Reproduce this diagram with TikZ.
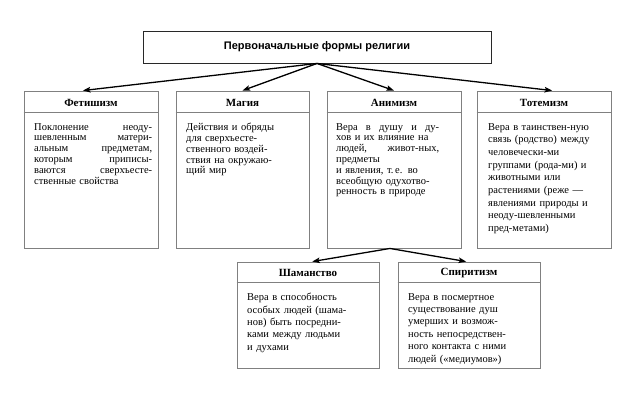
\documentclass[tikz,border=0pt]{standalone}
\usepackage{fontspec}
\setmainfont{Liberation Serif}
\newfontfamily\headfont{Liberation Sans}
\usetikzlibrary{arrows.meta,calc}
\definecolor{boxgray}{RGB}{128,128,128}
\definecolor{topgray}{RGB}{40,40,40}
\tikzset{
  box/.style={draw=boxgray, line width=0.9pt, rectangle, inner sep=0pt},
  topbox/.style={draw=topgray, line width=0.9pt, rectangle, inner sep=0pt},
  ttl/.style={inner sep=0pt, font=\fontsize{11}{12}\selectfont\bfseries},
  body/.style={inner sep=0pt, anchor=north west, align=left, font=\fontsize{10.5}{10.8}\selectfont},
  bodywide/.style={body, font=\fontsize{10.5}{12.7}\selectfont},
  bodylow/.style={body, font=\fontsize{10.5}{12.4}\selectfont},
  arr/.style={line width=1.3pt, -{Stealth[length=7.5pt,width=5.5pt,inset=1.5pt]}},
  sep/.style={draw=boxgray, line width=0.9pt}
}
\begin{document}
\begin{tikzpicture}[x=1pt,y=-1pt]
\useasboundingbox[fill=white] (0,0) rectangle (623,405);

% top box
\node[topbox, minimum width=348pt, minimum height=32pt] (top) at (317,47) {};
\node[inner sep=0pt, font=\fontsize{11}{12}\selectfont\headfont\bfseries] (toptxt) at (317,47) {Первоначальные формы религии};

% top row boxes
\node[box, minimum width=134pt, minimum height=157pt] (b1) at (91,169.5) {};
\node[box, minimum width=133pt, minimum height=157pt] (b2) at (242.5,169.5) {};
\node[box, minimum width=134pt, minimum height=157pt] (b3) at (394,169.5) {};
\node[box, minimum width=134pt, minimum height=157pt] (b4) at (544,169.5) {};

\draw[sep] (b1.north west) ++(0,22) -- ($(b1.north east)+(0,22)$);
\draw[sep] (b2.north west) ++(0,22) -- ($(b2.north east)+(0,22)$);
\draw[sep] (b3.north west) ++(0,22) -- ($(b3.north east)+(0,22)$);
\draw[sep] (b4.north west) ++(0,22) -- ($(b4.north east)+(0,22)$);

\node[ttl] (t1) at (91,103) {Фетишизм};
\node[ttl] (t2) at (242.5,103) {Магия};
\node[ttl] (t3) at (394,103) {Анимизм};
\node[ttl] (t4) at (544,103) {Тотемизм};

\node[body, text width=118pt] (x1) at (34,123) {Поклонение \hfill неоду-\\
шевленным \hfill матери-\\
альным \hfill предметам,\\
которым \hfill приписы-\\
ваются \hfill сверхъесте-\\
ственные свойства};

\node[body, text width=110pt] (x2) at (186,123) {Действия и обряды\\
для сверхъесте-\\
ственного воздей-\\
ствия на окружаю-\\
щий мир};

\node[body, text width=103pt] (x3) at (336,123) {Вера \hfill в \hfill душу \hfill и \hfill ду-\\
хов и их влияние на\\
людей, \hfill живот-ных,\\
предметы\\
и явления, т.\,е. во\\
всеобщую одухотво-\\
ренность в природе};

\node[bodywide, text width=118pt] (x4) at (488,123) {Вера в таинствен-ную\\
связь (родство) между\\
человечески-ми\\
группами (рода-ми) и\\
животными или\\
растениями (реже —\\
явлениями природы и\\
неоду-шевленными\\
пред-метами)};

% bottom boxes
\node[box, minimum width=142pt, minimum height=106pt] (b5) at (308,315) {};
\node[box, minimum width=142pt, minimum height=106pt] (b6) at (469,315) {};
\draw[sep] (b5.north west) ++(0,21) -- ($(b5.north east)+(0,21)$);
\draw[sep] (b6.north west) ++(0,21) -- ($(b6.north east)+(0,21)$);
\node[ttl] (t5) at (308,273) {Шаманство};
\node[ttl] (t6) at (469,273) {Спиритизм};

\node[bodylow, text width=115pt] (x5) at (247,293) {Вера в способность\\
особых людей (шама-\\
нов) быть посредни-\\
ками между людьми\\
и духами};

\node[bodylow, text width=115pt] (x6) at (408,293) {Вера в посмертное\\
существование душ\\
умерших и возмож-\\
ность непосредствен-\\
ного контакта с ними\\
людей («медиумов»)};

% arrows
\draw[arr] (top.south) -- ($(b1.north west)!0.44!(b1.north east)$);
\draw[arr] (top.south) -- (b2.north);
\draw[arr] (top.south) -- (b3.north);
\draw[arr] (top.south) -- ($(b4.north west)!0.56!(b4.north east)$);
\draw[arr] ($(b3.south west)!0.47!(b3.south east)$) -- ($(b5.north west)!0.53!(b5.north east)$);
\draw[arr] ($(b3.south west)!0.47!(b3.south east)$) -- ($(b6.north west)!0.48!(b6.north east)$);
\end{tikzpicture}
\end{document}
